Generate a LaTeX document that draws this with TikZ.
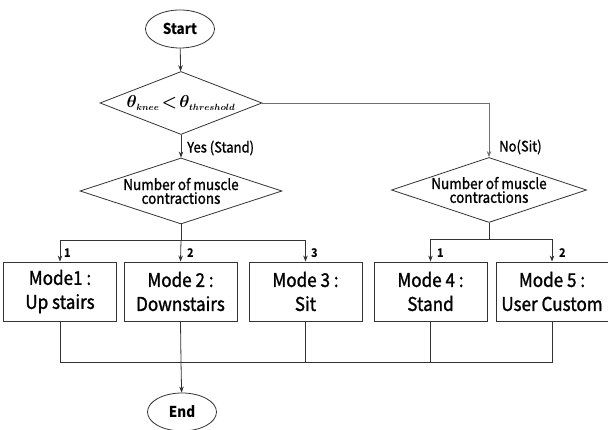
\documentclass[tikz,border=0pt]{standalone}
\usepackage{fontspec}
\setmainfont{Noto Sans CJK KR}[FakeStretch=0.9]
\newfontface\medfont{Noto Sans CJK KR}[FakeBold=1.2,FakeStretch=0.9]
\usetikzlibrary{shapes.geometric,arrows.meta}
\definecolor{ln}{HTML}{333333}
\tikzset{
  term/.style={ellipse,draw=ln,line width=0.8pt,minimum width=69pt,minimum height=38pt,inner sep=0pt,font=\fontsize{15}{18}\selectfont\bfseries},
  dec/.style={diamond,draw=ln,line width=0.8pt,inner sep=0pt,align=center},
  modebox/.style={rectangle,draw=ln,line width=0.8pt,minimum width=113pt,minimum height=59pt,inner sep=0pt,align=center,font=\fontsize{19}{24}\medfont},
  conn/.style={draw=ln,line width=0.8pt},
  arr/.style={conn,-{Stealth[length=6pt,width=4.5pt]}},
  lab/.style={anchor=west,inner sep=0pt,font=\fontsize{14.5}{16}\medfont},
  num/.style={anchor=west,inner sep=0pt,font=\fontsize{12}{14}\selectfont\bfseries},
}
\newcommand{\dlabel}{\makebox[0pt]{\raisebox{-2pt}{\shortstack{\fontsize{15}{20}\medfont Number of muscle\\[-1pt]\fontsize{15}{20}\medfont contractions}}}}
\newcommand{\subsc}[1]{\hbox{\fontsize{9}{10}\selectfont\boldmath$#1$}}
\begin{document}
\begin{tikzpicture}[x=1pt,y=1pt]
\useasboundingbox (0,0) rectangle (608,430);
\node[term] (start) at (180,401) {Start};
\node[dec,minimum width=162pt,minimum height=63pt] (d1) at (181,327) {\makebox[0pt]{\raisebox{-1pt}{\fontsize{17}{20}\selectfont\boldmath$\theta_{\subsc{knee}}\!<\!\theta_{\subsc{threshold}}$}}};
\node[dec,minimum width=202pt,minimum height=66pt] (d2) at (181,239) {\dlabel};
\node[dec,minimum width=195pt,minimum height=65pt] (d3) at (489,240) {\dlabel};
\node[modebox] (m1) at (60,138.5) {Mode1 :\\Up stairs};
\node[modebox] (m2) at (180.5,138.5) {Mode 2 :\\Downstairs};
\node[modebox] (m3) at (305.5,138.5) {Mode 3 :\\Sit};
\node[modebox] (m4) at (430.5,138.5) {Mode 4 :\\Stand};
\node[modebox,minimum width=112pt] (m5) at (552,138.5) {Mode 5 :\\User Custom};
\node[term] (end) at (182,18) {End};
% labels
\node[lab] (yes) at (187,282) {Yes (Stand)};
\node[lab] (no) at (499,283) {No(Sit)};
\node[num] (n1) at (64,177) {1};
\node[num] (n2) at (187,177) {2};
\node[num] (n3) at (311,177) {3};
\node[num] (n4) at (437,177) {1};
\node[num] (n5) at (559,177) {2};
% connectors
\draw[arr] (start) -- (d1);
\draw[arr] (d1) -- (d2);
\coordinate (cr) at (489,327);
\draw[arr,draw=ln!70] (d1.east) -- (cr) -- (d3.north);
\coordinate (bl) at (181,190);
\draw[conn] (d2.south) -- (bl);
\draw[arr] (bl) -| (m1.north);
\draw[arr] (bl) -- (m2.north);
\draw[arr] (bl) -| (m3.north);
\coordinate (br) at (489,191);
\draw[conn] (d3.south) -- (br);
\draw[arr] (br) -| (m4.north);
\draw[arr] (br) -| (m5.north);
\coordinate (jb) at (181,68);
\draw[conn] (m1.south) |- (jb);
\draw[conn] (m2.south) -- (jb);
\draw[conn] (m3.south) |- (jb);
\draw[conn] (m4.south) |- (jb);
\draw[conn] (m5.south) |- (jb);
\draw[arr] (jb) -- (end);
\end{tikzpicture}
\end{document}
